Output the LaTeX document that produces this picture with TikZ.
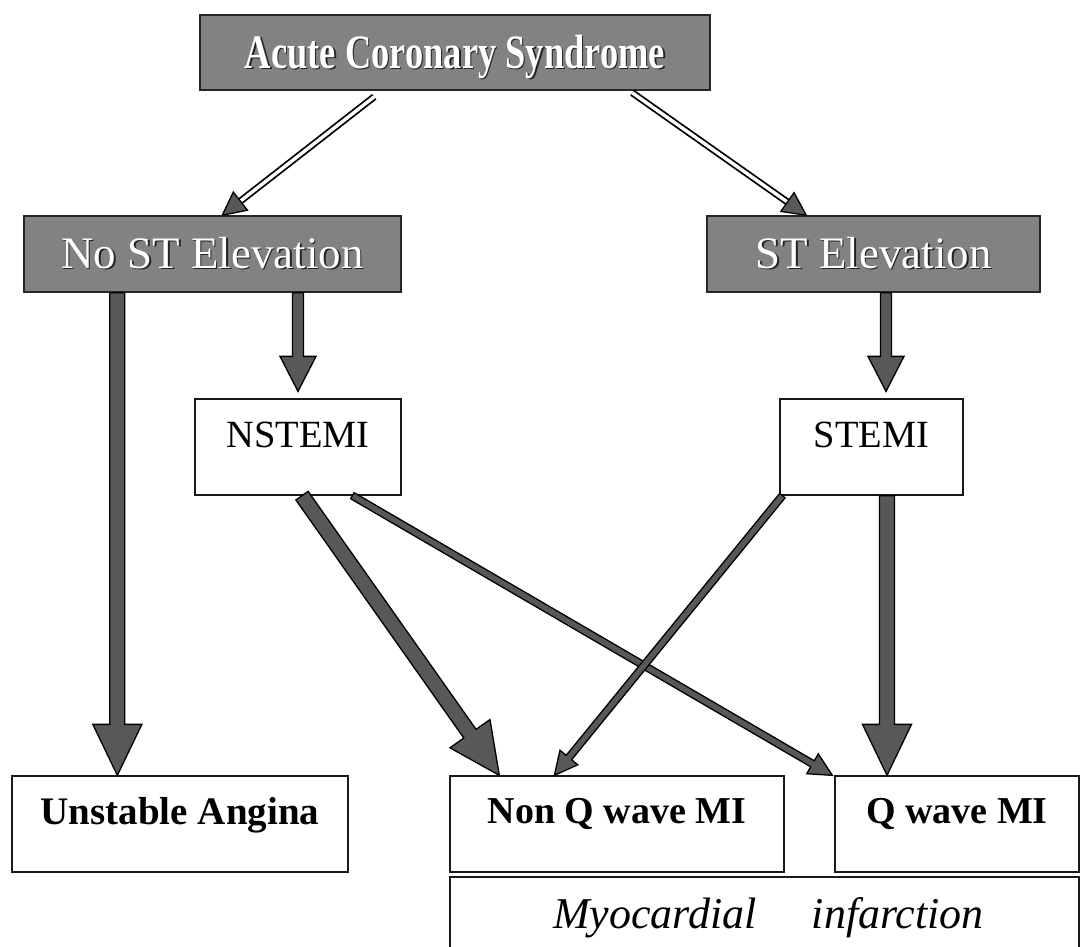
\documentclass[tikz,border=0pt]{standalone}
\usepackage{fontspec}
\setmainfont{Liberation Serif}
\usetikzlibrary{calc}
\definecolor{boxgray}{RGB}{130,130,130}
\definecolor{arrgray}{RGB}{88,88,88}
\definecolor{shadowc}{RGB}{35,35,35}

\newcommand\shtext[1]{\rlap{\kern1.6pt\raisebox{-1.6pt}{\textcolor{shadowc}{#1}}}\textcolor{white}{#1}}

% block arrow: start, tip, half shaft width, half head width, head length
\newcommand\blockarrow[5]{%
  \coordinate (tmpS) at #1;
  \coordinate (tmpT) at #2;
  \coordinate (tmpB) at ($(tmpT)!#5!(tmpS)$);
  \draw[arrowshape] ($(tmpS)!#3!90:(tmpT)$) -- ($(tmpB)!#3!-90:(tmpS)$)
     -- ($(tmpB)!#4!-90:(tmpS)$) -- (tmpT) -- ($(tmpB)!#4!90:(tmpS)$)
     -- ($(tmpB)!#3!90:(tmpS)$) -- ($(tmpS)!#3!-90:(tmpT)$) -- cycle;
}
% hollow double-line arrow: start, tip
\newcommand\dblarrow[2]{%
  \coordinate (tmpS) at #1;
  \coordinate (tmpT) at #2;
  \coordinate (tmpB) at ($(tmpT)!18pt!(tmpS)$);
  \coordinate (tmpH) at ($(tmpT)!23pt!(tmpS)$);
  \draw[dblline] (tmpS) -- (tmpB);
  \draw[arrowshape] (tmpT) -- ($(tmpH)!11.5pt!90:(tmpS)$) -- ($(tmpH)!11.5pt!-90:(tmpS)$) -- cycle;
}

\begin{document}
\begin{tikzpicture}[x=1pt,y=-1pt,
  graybox/.style={draw=black!85, line width=1.5pt, fill=boxgray, inner sep=0pt, rectangle},
  whitebox/.style={draw=black!90, line width=1.3pt, fill=white, inner sep=0pt, rectangle},
  arrowshape/.style={fill=arrgray, draw=black, line width=1.3pt, line join=miter},
  dblline/.style={draw=black, line width=1.8pt, double=white, double distance=3.4pt},
  bigfont/.style={font=\fontsize{45}{50}\selectfont},
  midfont/.style={font=\fontsize{38.5}{44}\selectfont},
  boldfont/.style={font=\fontsize{38}{44}\selectfont\bfseries}
]
\useasboundingbox (0,0) rectangle (1083,946);
\clip (0,0) rectangle (1083,946);
\fill[white] (0,0) rectangle (1083,946);

% header boxes
\node[graybox, minimum width=510pt, text height=53pt, text depth=22pt] (acs) at (455,52.5)
  {\fontsize{48}{52}\selectfont\scalebox{0.76}[1]{\bfseries\shtext{Acute Coronary Syndrome}}};
\node[graybox, bigfont, minimum width=377pt, text height=52pt, text depth=24pt] (nost) at (212.5,254)
  {\shtext{No ST Elevation}};
\node[graybox, bigfont, minimum width=333pt, text height=52pt, text depth=24pt] (st) at (873.5,254)
  {\shtext{ST Elevation}};

% middle boxes
\node[whitebox, midfont, minimum width=206pt, text height=48pt, text depth=48pt] (nstemi) at (298,447) {NSTEMI};
\node[whitebox, midfont, minimum width=183pt, text height=48pt, text depth=48pt] (stemi) at (871.5,447) {STEMI};

% bottom boxes
\node[whitebox, font=\fontsize{39}{44}\selectfont\bfseries, minimum width=336pt, text height=48pt, text depth=48pt] (ua) at (180,824) {Unstable Angina};
\node[whitebox, boldfont, minimum width=334pt, text height=47pt, text depth=49pt] (nonq) at (617,824) {Non Q wave MI};
\node[whitebox, boldfont, minimum width=244pt, text height=47pt, text depth=49pt] (qw) at (957,824) {Q wave MI};
\node[whitebox, font=\fontsize{44}{50}\selectfont\itshape, minimum width=629pt, text height=51pt, text depth=42pt] (mi) at (764.5,923.5)
  {\hspace{8pt}Myocardial\hspace{55pt}infarction};

% double arrows
\dblarrow{([xshift=175pt,yshift=-6pt]acs.south west)}{([xshift=199pt]nost.north west)}
\dblarrow{([xshift=433pt,yshift=-2pt]acs.south west)}{([xshift=100pt]st.north west)}

% block arrows
\blockarrow{([xshift=94pt]nost.south west)}{([xshift=106pt]ua.north west)}{7.5pt}{24.5pt}{51pt}
\blockarrow{(nost.south -| nstemi.north)}{([yshift=7pt]nstemi.north)}{5.5pt}{18pt}{35pt}
\blockarrow{([xshift=12.5pt]st.south)}{([xshift=14.5pt,yshift=7pt]stemi.north)}{5.5pt}{18pt}{35pt}
\blockarrow{([xshift=15.5pt]stemi.south)}{([xshift=-70pt]qw.north)}{7.5pt}{24.5pt}{51pt}
\blockarrow{([xshift=4pt]nstemi.south)}{([xshift=50pt]nonq.north west)}{7.5pt}{24.5pt}{51pt}
\blockarrow{([xshift=158pt]nstemi.south west)}{([xshift=-2pt]qw.north west)}{3.5pt}{11.5pt}{23pt}
\blockarrow{([xshift=3pt]stemi.south west)}{([xshift=105pt]nonq.north west)}{3.5pt}{11.5pt}{23pt}
\end{tikzpicture}
\end{document}
